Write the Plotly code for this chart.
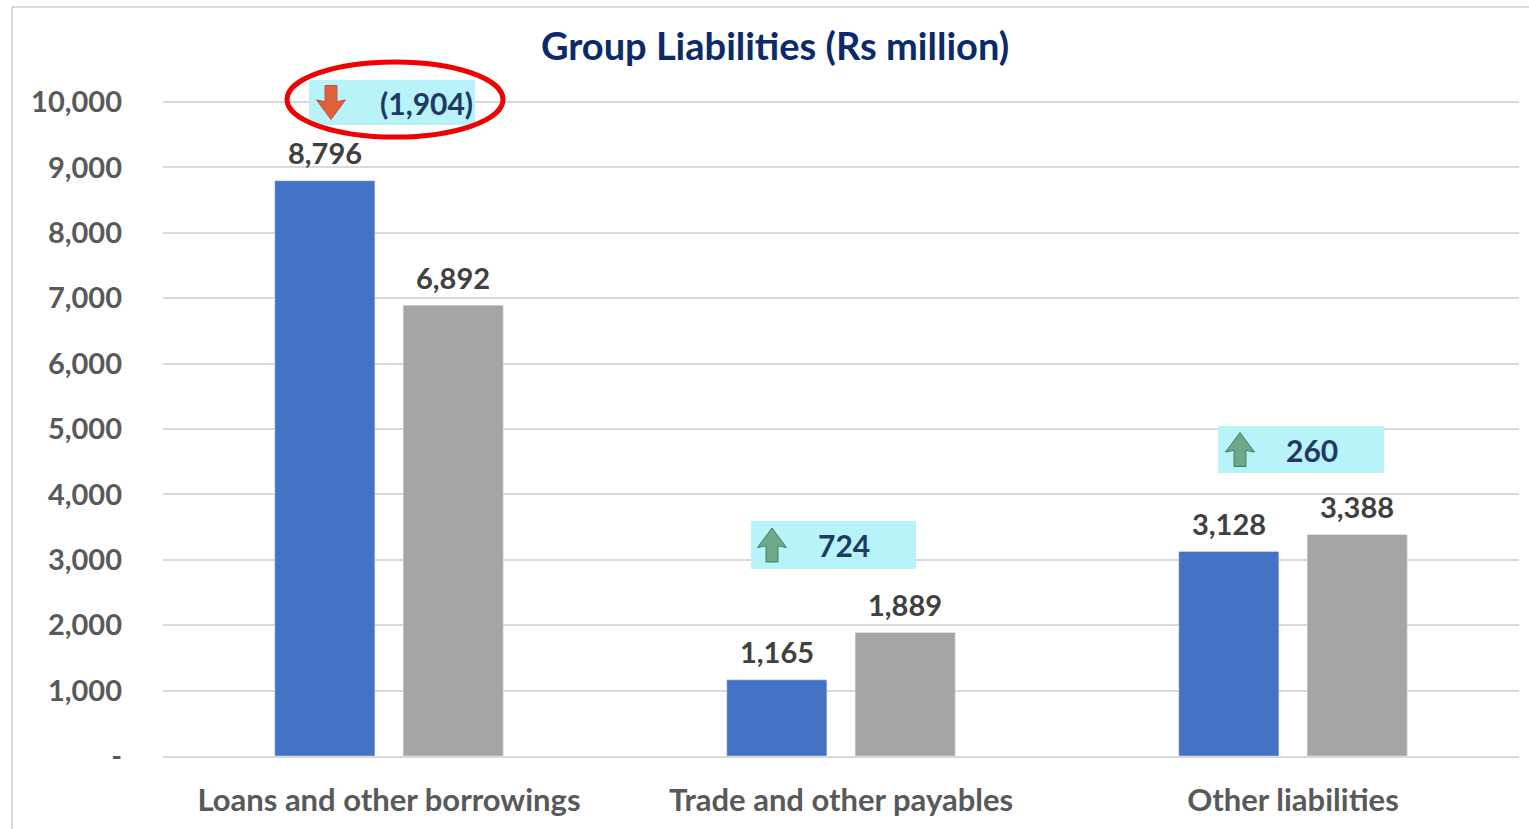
import plotly.graph_objects as go

categories = ["Loans and other borrowings", "Trade and other payables", "Other liabilities"]
prior_year = [8796, 1165, 3128]
current_year = [6892, 1889, 3388]
change_labels = ["(1,904)", "724", "260"]
change_dir = ["down", "up", "up"]
tick_vals = [0, 1000, 2000, 3000, 4000, 5000, 6000, 7000, 8000, 9000, 10000]
tick_text = ["-", "1,000", "2,000", "3,000", "4,000", "5,000", "6,000", "7,000", "8,000", "9,000", "10,000"]

FONT = "Lato"
W, H = 1529, 829
PX0, PX1, PY0, PY1 = 163, 1519, 70, 756
L, R, T, B = PX0, W - PX1, PY0, H - PY1
px_per_val = (756 - 102) / 10000
YMAX = (PY1 - PY0) / px_per_val
PW, PH = PX1 - PX0, PY1 - PY0


def pxx(x):
    return (x - PX0) / PW


def pxy(y):
    return (PY1 - y) / PH


fig = go.Figure()
for vals, col in ((prior_year, "#4472C4"), (current_year, "#A5A5A5")):
    fig.add_trace(go.Bar(x=categories, y=vals, marker_color=col, hoverinfo="x+y"))

px_per_cat = PW / 3
shapes = []
annotations = []
# value labels above each bar
for s, vals in enumerate((prior_year, current_year)):
    for i, v in enumerate(vals):
        annotations.append(dict(x=i, y=v, xref="x", yref="y", xshift=(-64 if s == 0 else 64), yshift=28,
                                text=f"<b>{v:,}</b>", showarrow=False, xanchor="center", yanchor="middle",
                                font=dict(family=FONT, size=29, color="#404040")))

# callout boxes in pixel offsets from category center (style only)
boxes = [(-80, 86, 125, 80), (-90, 75, 569, 521), (-75, 91, 473, 426)]
arrow_off = [-58, -69, -53]
text_off = [37, 3, 19]
for i, (bx0, bx1, by0, by1) in enumerate(boxes):
    y0 = (756 - by0) / px_per_val
    y1 = (756 - by1) / px_per_val
    shapes.append(dict(type="rect", xref="x", yref="y", x0=i + bx0 / px_per_cat, x1=i + bx1 / px_per_cat,
                       y0=y0, y1=y1, fillcolor="#B7F3F8", line_width=0, layer="above"))
    ym = (y0 + y1) / 2
    ax = i + arrow_off[i] / px_per_cat
    sx = 17 / px_per_cat
    sy = 17 / px_per_val
    if change_dir[i] == "down":
        col, lc = "#E0603A", "#C0504D"
        pts = [(-0.35, 1), (0.35, 1), (0.35, 0.05), (0.85, 0.15), (0, -1), (-0.85, 0.15), (-0.35, 0.05)]
    else:
        col, lc = "#6FA889", "#3F7F5F"
        pts = [(-0.35, -1), (0.35, -1), (0.35, -0.05), (0.85, -0.15), (0, 1), (-0.85, -0.15), (-0.35, -0.05)]
    path = "M " + " L ".join(f"{ax + px * sx:.5f},{ym + py * sy:.2f}" for px, py in pts) + " Z"
    shapes.append(dict(type="path", xref="x", yref="y", path=path, fillcolor=col,
                       line=dict(color=lc, width=1), layer="above"))
    annotations.append(dict(x=i + text_off[i] / px_per_cat, y=ym, xref="x", yref="y",
                            text=f"<b>{change_labels[i]}</b>",
                            showarrow=False, font=dict(family=FONT, size=30, color="#1F3864"),
                            xanchor="center", yanchor="middle"))

# red ellipse around first callout
shapes.append(dict(type="circle", xref="paper", yref="paper",
                   x0=pxx(287), x1=pxx(503), y0=pxy(137), y1=pxy(62),
                   line=dict(color="#F00000", width=5), layer="above"))
# outer chart border (left and top)
shapes.append(dict(type="line", xref="paper", yref="paper", x0=pxx(12), x1=pxx(12),
                   y0=pxy(H + 20), y1=pxy(7), line=dict(color="#D9D9D9", width=2)))
shapes.append(dict(type="line", xref="paper", yref="paper", x0=pxx(12), x1=pxx(W + 20),
                   y0=pxy(7), y1=pxy(7), line=dict(color="#D9D9D9", width=2)))

fig.update_layout(
    width=W, height=H, margin=dict(l=L, r=R, t=T, b=B),
    paper_bgcolor="white", plot_bgcolor="white",
    barmode="group", bargap=0.432, bargroupgap=0.22,
    showlegend=False,
    title=dict(text="<b>Group Liabilities (Rs million)</b>", x=775 / W, xanchor="center", y=1 - 47 / H,
               yanchor="middle", font=dict(family=FONT, size=38, color="#0B2A6B")),
    shapes=shapes, annotations=annotations,
    xaxis=dict(type="category", range=[-0.5, 2.5], showline=True, linecolor="#D9D9D9", linewidth=1.5,
               ticks="", tickfont=dict(family=FONT, size=31, color="#595959", weight="bold"),
               ticklabelstandoff=16),
    yaxis=dict(range=[0, YMAX], tickvals=tick_vals, ticktext=tick_text, showgrid=True,
               gridcolor="#D9D9D9", gridwidth=1.5, zeroline=False, ticks="",
               tickfont=dict(family=FONT, size=29, color="#595959", weight="bold"), ticklabelstandoff=40),
    font=dict(family=FONT),
)

fig.write_html("out.html")
